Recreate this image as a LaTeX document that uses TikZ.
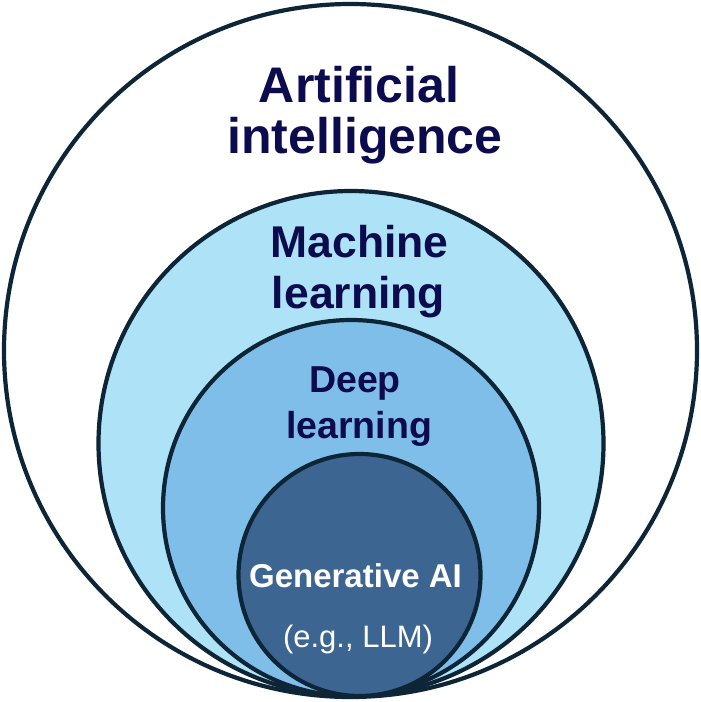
\documentclass[tikz,border=0pt]{standalone}
\usepackage{fontspec}
\setmainfont{Liberation Sans}
\definecolor{edge}{HTML}{0D2536}
\definecolor{navy}{HTML}{0B0B4D}
\definecolor{mlfill}{HTML}{AEE2F7}
\definecolor{dlfill}{HTML}{80BEEA}
\definecolor{gafill}{HTML}{3D6591}
\tikzset{
  ring/.style={draw=edge, line width=4.2pt},
  bigtxt/.style={anchor=base, inner sep=0pt, text=navy, font=\bfseries\fontsize{50}{51}\selectfont},
  mltxt/.style={anchor=base, inner sep=0pt, text=navy, font=\bfseries\fontsize{44.5}{50}\selectfont},
  dltxt/.style={anchor=base, inner sep=0pt, text=navy, font=\bfseries\fontsize{37.5}{44}\selectfont},
  gatxt/.style={anchor=base, inner sep=0pt, text=white, font=\bfseries\fontsize{33}{38}\selectfont},
  egtxt/.style={anchor=base, inner sep=0pt, text=white, font=\fontsize{31}{36}\selectfont},
}
\begin{document}
\begin{tikzpicture}[x=1pt,y=-1pt]
\useasboundingbox (0,0) rectangle (701,702);
\fill[white] (0,0) rectangle (701,702);
% circles
\draw[ring, fill=white] (350.5,350.5) circle (346.5);
\draw[ring, fill=mlfill] (351,443.5) circle (252.5);
\draw[ring, fill=dlfill] (351,508) circle (188);
\draw[ring, fill=gafill] (359.5,575) circle (121);
% labels
\node[bigtxt] (ai1) at (359,102) {Artificial};
\node[bigtxt] (ai2) at (365,153) {intelligence};
\node[mltxt] (ml1) at (359.5,257) {Machine};
\node[mltxt] (ml2) at (358.5,308) {learning};
\node[dltxt] (dl1) at (355,392) {Deep};
\node[dltxt] (dl2) at (359,438) {learning};
\node[gatxt] (ga1) at (355.5,587) {Generative AI};
\node[egtxt] (ga2) at (358,647) {(e.g., LLM)};
\end{tikzpicture}
\end{document}
